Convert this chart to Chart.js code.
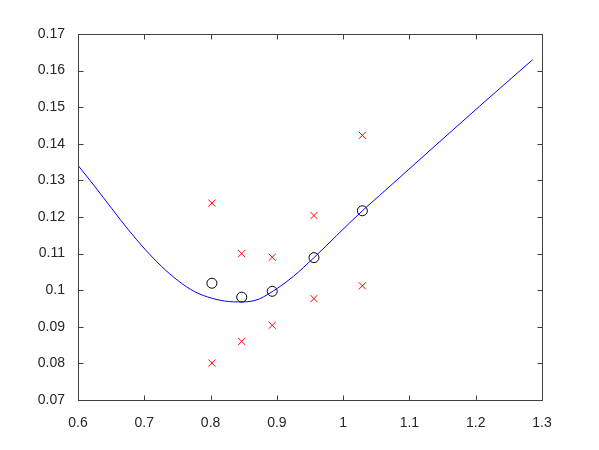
<!DOCTYPE html>
<html>
<head>
<meta charset="utf-8">
<script src="https://cdn.jsdelivr.net/npm/chart.js@4/dist/chart.umd.min.js"></script>
<style>
  html, body { margin: 0; padding: 0; background: #fff; }
  #wrap { width: 599px; height: 450px; }
</style>
</head>
<body>
<div id="wrap"><canvas id="chart" width="599" height="450"></canvas></div>
<script>
// tick labels
const xTicks = [0.6, 0.7, 0.8, 0.9, 1.0, 1.1, 1.2, 1.3];
const yTicks = [0.07, 0.08, 0.09, 0.10, 0.11, 0.12, 0.13, 0.14, 0.15, 0.16, 0.17];

// fitted curve
const fitX = [0.600, 0.626, 0.651, 0.676, 0.701, 0.726, 0.751, 0.776, 0.802, 0.827, 0.842, 0.867,
              0.893, 0.925, 0.956, 0.990, 1.029, 1.055, 1.081, 1.131, 1.206, 1.286];
const fitY = [0.1341, 0.1282, 0.1223, 0.1165, 0.1112, 0.1065, 0.1026, 0.0996, 0.0978, 0.0969, 0.0968, 0.0972,
              0.0996, 0.1038, 0.1089, 0.1149, 0.1217, 0.1259, 0.1301, 0.1382, 0.1503, 0.1630];

// circles
const meanX = [0.802, 0.847, 0.893, 0.956, 1.029];
const meanY = [0.1019, 0.0981, 0.0997, 0.1089, 0.1217];

// red crosses
const upperY = [0.1238, 0.1100, 0.1090, 0.1204, 0.1423];
const lowerY = [0.0801, 0.0860, 0.0904, 0.0977, 0.1012];

const axisColor = '#404040';
const font = { family: '"Liberation Sans", Arial, Helvetica, sans-serif', size: 14 };

const toPts = (xs, ys) => xs.map((x, i) => ({ x: x, y: ys[i] }));
const fmt = v => String(+Number(v).toFixed(2));

// MATLAB-like box with inward ticks on all four sides
const boxPlugin = {
    id: 'box',
    afterDraw(chart) {
        const { ctx, chartArea: a, scales } = chart;
        const L = Math.round(a.left) + 0.5, R = Math.round(a.right) + 0.5;
        const T = Math.round(a.top) + 0.5, B = Math.round(a.bottom) + 0.5;
        const len = 5;
        ctx.save();
        ctx.strokeStyle = axisColor;
        ctx.lineWidth = 1;
        ctx.strokeRect(L, T, R - L, B - T);
        ctx.beginPath();
        xTicks.forEach(v => {
            const px = Math.round(scales.x.getPixelForValue(v)) + 0.5;
            ctx.moveTo(px, B); ctx.lineTo(px, B - len);
            ctx.moveTo(px, T); ctx.lineTo(px, T + len);
        });
        yTicks.forEach(v => {
            const py = Math.round(scales.y.getPixelForValue(v)) + 0.5;
            ctx.moveTo(L, py); ctx.lineTo(L + len, py);
            ctx.moveTo(R, py); ctx.lineTo(R - len, py);
        });
        ctx.stroke();
        ctx.restore();
    }
};

new Chart(document.getElementById('chart'), {
    type: 'scatter',
    data: {
        datasets: [
            {
                type: 'line',
                data: toPts(fitX, fitY),
                borderColor: '#0000ff',
                borderWidth: 1,
                pointRadius: 0,
                cubicInterpolationMode: 'monotone',
                fill: false
            },
            {
                data: toPts(meanX, meanY),
                pointStyle: 'circle',
                pointRadius: 5,
                borderColor: '#000000',
                backgroundColor: 'rgba(0,0,0,0)',
                borderWidth: 1
            },
            {
                data: toPts(meanX, upperY).concat(toPts(meanX, lowerY)),
                pointStyle: 'crossRot',
                pointRadius: 5,
                borderColor: '#ff0000',
                borderWidth: 1
            }
        ]
    },
    options: {
        responsive: false,
        animation: false,
        layout: { padding: { top: 34, right: 57, left: 0, bottom: 0 } },
        plugins: { legend: { display: false }, tooltip: { enabled: false } },
        scales: {
            x: {
                type: 'linear',
                min: 0.6, max: 1.3,
                afterBuildTicks: s => { s.ticks = xTicks.map(v => ({ value: v })); },
                afterFit: s => { s.height = 50; },
                grid: { display: false },
                border: { display: false },
                ticks: { color: '#262626', font: font, padding: 7, maxRotation: 0, callback: fmt }
            },
            y: {
                type: 'linear',
                min: 0.07, max: 0.17,
                afterBuildTicks: s => { s.ticks = yTicks.map(v => ({ value: v })); },
                afterFit: s => { s.width = 78; },
                grid: { display: false },
                border: { display: false },
                ticks: { color: '#262626', font: font, padding: 5, callback: fmt }
            }
        }
    },
    plugins: [boxPlugin]
});
</script>
</body>
</html>
